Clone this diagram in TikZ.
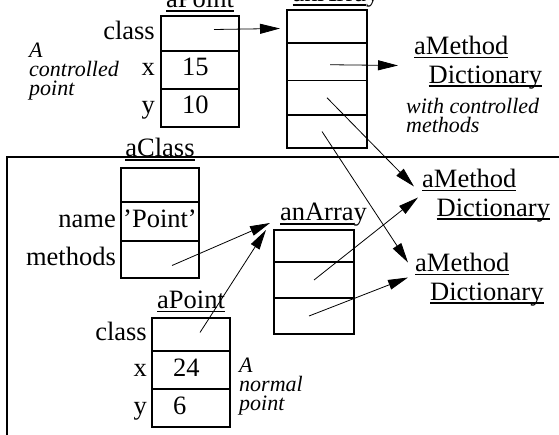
\documentclass[tikz,border=0pt]{standalone}
\usepackage{fontspec}
\setmainfont{Liberation Serif}[ItalicFont={Liberation Serif Italic}]
\usetikzlibrary{positioning,arrows.meta}
\newcommand\objfont{\fontsize{26.5}{28.5}\selectfont}
\newcommand\notefont{\fontsize{22}{19}\selectfont\itshape}
\newsavebox\ulbox
\newcommand\ulbl[1]{\sbox\ulbox{#1}\rlap{\rule[-3.6pt]{\wd\ulbox}{1.2pt}}\usebox\ulbox}

\begin{document}
\begin{tikzpicture}[x=1pt,y=-1pt,
  cell/.style={draw,line width=1.2pt,minimum width=78pt,inner sep=0pt,outer sep=0pt,font=\objfont,text height=18pt,text depth=6pt},
  val/.style={cell,text width=36pt,inner xsep=21pt,align=left},
  lbl/.style={font=\objfont,inner sep=0pt,text height=18pt,text depth=6pt},
  objname/.style={font=\objfont,inner sep=0pt,anchor=base},
  dict/.style={font=\objfont,inner sep=0pt,anchor=north west,align=left},
  note/.style={font=\notefont,inner sep=0pt,anchor=north west,align=left},
  ptr/.style={-{Triangle[length=20pt,width=10pt]},line width=0.8pt}]
\useasboundingbox (0,0) rectangle (559,435);
% frame round the normal objects
\draw[line width=2.5pt] (7,445) |- (570,157);
% controlled point and its array
\node[cell,anchor=north west,minimum height=35pt] (ctclass) at (161,16) {};
\node[val,below=0pt of ctclass,minimum height=38pt] (ctx) {15};
\node[val,below=0pt of ctx,minimum height=38pt] (cty) {10};
\foreach \c/\t in {ctclass/class,ctx/x,cty/y} {\node[lbl,left=6pt of \c] (\c-l) {\t};}
\node[objname] (ctname) at ([yshift=8pt]ctclass.north) {\ulbl{aPoint}};
\node[note] (ctnote) at (29,43) {A\\controlled\\point};
\node[cell,anchor=north west,minimum width=80pt,minimum height=33pt] (ca1) at (287,10) {};
\node[cell,below=0pt of ca1,minimum width=80pt,minimum height=37.5pt] (ca2) {};
\node[cell,below=0pt of ca2,minimum width=80pt,minimum height=34.5pt] (ca3) {};
\node[cell,below=0pt of ca3,minimum width=80pt,minimum height=33pt] (ca4) {};
\node[objname] (caname) at ([xshift=9pt,yshift=8pt]ca1.north) {\ulbl{anArra}y};
\node[dict] (cdict) at (414,36) {\ulbl{aMethod}\\\hspace{14.5pt}\ulbl{Dictionary}};
\node[note] (cnote) at (406,98) {with controlled\\methods};
% normal point, its class and array
\node[cell,anchor=north west,minimum height=34pt] (cls1) at (121,168) {};
\node[cell,below=0pt of cls1,minimum height=39pt] (cls2) {'Point'};
\node[cell,below=0pt of cls2,minimum height=37pt] (cls3) {};
\foreach \c/\t in {cls2/name,cls3/methods} {\node[lbl,left=5pt of \c] (\c-l) {\t};}
\node[objname] (clsname) at ([yshift=11pt]cls1.north) {\ulbl{aClass}};
\node[cell,anchor=north west,minimum width=80pt,minimum height=32pt] (ba1) at (274,230) {};
\node[cell,below=0pt of ba1,minimum width=80pt,minimum height=36pt] (ba2) {};
\node[cell,below=0pt of ba2,minimum width=80pt,minimum height=36pt] (ba3) {};
\node[objname] (baname) at ([xshift=9.5pt,yshift=9pt]ba1.north) {\ulbl{anArra}y};
\node[cell,anchor=north west,minimum height=33pt] (npclass) at (152,318) {};
\node[val,below=0pt of npclass,minimum height=38pt] (npx) {24};
\node[val,below=0pt of npx,minimum height=38pt] (npy) {6};
\foreach \c/\t in {npclass/class,npx/x,npy/y} {\node[lbl,left=5pt of \c] (\c-l) {\t};}
\node[objname] (npname) at ([yshift=9.5pt]npclass.north) {\ulbl{aPoint}};
\node[note] (npnote) at (239,358) {A\\normal\\point};
\node[dict] (dictA) at (422,169) {\ulbl{aMethod}\\\hspace{14.5pt}\ulbl{Dictionary}};
\node[dict] (dictB) at (415,253) {\ulbl{aMethod}\\\hspace{15pt}\ulbl{Dictionary}};
% pointers
\draw[ptr] ([xshift=14pt,yshift=4pt]ctclass.center) -- ([xshift=-7pt,yshift=-2pt]ca1.west);
\draw[ptr] ([xshift=3pt,yshift=-3pt]ca2.center) -- ([xshift=-16pt,yshift=-3pt]cdict.west);
\draw[ptr] (ca3.center) -- ([xshift=-8pt,yshift=9pt]dictA.west);
\draw[ptr] ([xshift=-5pt]ca4.center) -- ([xshift=-7pt,yshift=17pt]dictB.west);
\draw[ptr] ([xshift=12pt,yshift=-6pt]cls3.center) -- ([xshift=-4pt,yshift=7pt]ba1.north west);
\draw[ptr] ([xshift=9pt,yshift=2pt]npclass.center) -- ([xshift=-8pt]ba1.north west);
\draw[ptr] (ba2.center) -- ([xshift=-4pt,yshift=-2pt]dictA.west);
\draw[ptr] ([xshift=-5pt]ba3.center) -- ([xshift=-7pt,yshift=2pt]dictB.west);
\end{tikzpicture}
\end{document}
